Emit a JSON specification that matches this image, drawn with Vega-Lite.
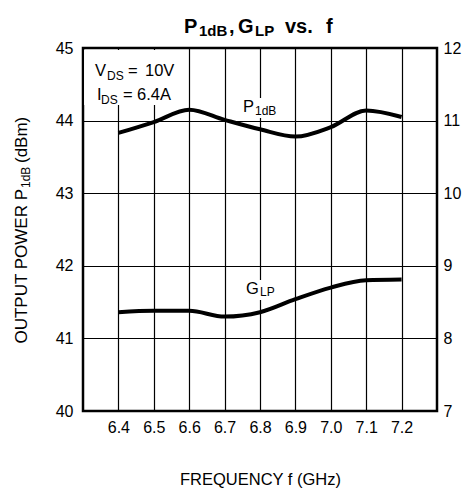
{
  "$schema": "https://vega.github.io/schema/vega-lite/v6.json",
  "width": 354,
  "height": 363,
  "autosize": {"type": "none"},
  "padding": {"left": 83, "top": 48, "right": 34, "bottom": 81},
  "background": "white",
  "config": {
    "font": "Liberation Sans",
    "view": {"stroke": "black", "strokeWidth": 2.5},
    "axis": {
      "domain": false,
      "ticks": false,
      "labelFont": "Liberation Sans",
      "labelFontSize": 16,
      "labelColor": "black",
      "gridColor": "black",
      "gridOpacity": 1,
      "gridWidth": 1.2,
      "titleFont": "Liberation Sans",
      "titleFontWeight": "normal",
      "titleColor": "black"
    },
    "text": {"font": "Liberation Sans", "color": "black"}
  },
  "datasets": {
    "p1db": [
      {"f": 6.4, "p": 43.83},
      {"f": 6.5, "p": 43.98},
      {"f": 6.6, "p": 44.15},
      {"f": 6.7, "p": 44.01},
      {"f": 6.8, "p": 43.88},
      {"f": 6.9, "p": 43.78},
      {"f": 7.0, "p": 43.91},
      {"f": 7.1, "p": 44.14},
      {"f": 7.2, "p": 44.05}
    ],
    "glp": [
      {"f": 6.4, "g": 8.36},
      {"f": 6.5, "g": 8.38},
      {"f": 6.6, "g": 8.38},
      {"f": 6.7, "g": 8.30},
      {"f": 6.8, "g": 8.36},
      {"f": 6.9, "g": 8.54},
      {"f": 7.0, "g": 8.70},
      {"f": 7.1, "g": 8.80},
      {"f": 7.2, "g": 8.81}
    ],
    "labelBoxes": [
      {"f": 6.303, "f2": 6.591, "y": 44.972, "y2": 44.215},
      {"f": 6.743, "f2": 6.879, "y": 44.311, "y2": 44.036},
      {"f": 6.752, "f2": 6.868, "y": 41.804, "y2": 41.529}
    ],
    "titleBig": [
      {"t": "P", "f": 6.5853, "y": 45.2066},
      {"t": ",", "f": 6.7124, "y": 45.2066},
      {"t": "G", "f": 6.7379, "y": 45.2066},
      {"t": "vs.", "f": 6.8706, "y": 45.2066},
      {"t": "f", "f": 6.9864, "y": 45.2066}
    ],
    "titleSub": [
      {"t": "1dB", "f": 6.6277, "y": 45.1653},
      {"t": "LP", "f": 6.7859, "y": 45.1653}
    ],
    "noteBig": [
      {"t": "V", "f": 6.3339, "y": 44.6143},
      {"t": "=", "f": 6.4271, "y": 44.6143},
      {"t": "10V", "f": 6.4751, "y": 44.6143},
      {"t": "I", "f": 6.3395, "y": 44.2837},
      {"t": "=", "f": 6.4130, "y": 44.2837},
      {"t": "6.4A", "f": 6.4525, "y": 44.2837},
      {"t": "P", "f": 6.752, "y": 44.1185},
      {"t": "G", "f": 6.7605, "y": 41.6116}
    ],
    "noteSub": [
      {"t": "DS", "f": 6.3678, "y": 44.5592},
      {"t": "DS", "f": 6.3508, "y": 44.2287},
      {"t": "1dB", "f": 6.7859, "y": 44.0771},
      {"t": "LP", "f": 6.8, "y": 41.584}
    ],
    "yTitleMain": [
      {"t": "OUTPUT POWER P", "f": 6.1418, "y": 43.0579}
    ],
    "yTitleEnd": [
      {"t": "(dBm)", "f": 6.1418, "y": 43.416}
    ],
    "yTitleSub": [
      {"t": "1dB", "f": 6.1503, "y": 43.0716}
    ]
  },
  "encoding": {
    "x": {
      "field": "f", "type": "quantitative",
      "scale": {"domain": [6.3, 7.3], "nice": false, "zero": false},
      "axis": {
        "values": [6.4, 6.5, 6.6, 6.7, 6.8, 6.9, 7.0, 7.1, 7.2],
        "format": ".1f",
        "grid": true,
        "labelPadding": 8,
        "title": "FREQUENCY f (GHz)",
        "titleFontSize": 16.5,
        "titlePadding": 36
      }
    }
  },
  "layer": [
    {
      "data": {"name": "p1db"},
      "mark": {"type": "line", "color": "black", "strokeWidth": 4, "interpolate": "monotone"},
      "encoding": {
        "y": {
          "field": "p", "type": "quantitative",
          "scale": {"domain": [40, 45], "nice": false, "zero": false},
          "axis": {
            "orient": "left",
            "values": [40, 41, 42, 43, 44, 45],
            "grid": true,
            "labelPadding": 10,
            "title": null
          }
        }
      }
    },
    {
      "data": {"name": "glp"},
      "mark": {"type": "line", "color": "black", "strokeWidth": 4, "interpolate": "monotone"},
      "encoding": {
        "y": {
          "field": "g", "type": "quantitative",
          "scale": {"domain": [7, 12], "nice": false, "zero": false},
          "axis": {
            "orient": "right",
            "values": [7, 8, 9, 10, 11, 12],
            "grid": false,
            "labelPadding": 6,
            "title": null
          }
        }
      }
    },
    {
      "data": {"name": "labelBoxes"},
      "mark": {"type": "rect", "color": "white", "opacity": 1},
      "encoding": {
        "x2": {"field": "f2"},
        "y": {"field": "y", "type": "quantitative", "scale": {"domain": [40, 45], "nice": false, "zero": false}, "axis": null},
        "y2": {"field": "y2"}
      }
    },
    {
      "data": {"name": "titleBig"},
      "mark": {"type": "text", "fontSize": 20, "fontWeight": "bold", "align": "left", "baseline": "alphabetic"},
      "encoding": {
        "y": {"field": "y", "type": "quantitative", "scale": {"domain": [40, 45], "nice": false, "zero": false}, "axis": null},
        "text": {"field": "t"}
      }
    },
    {
      "data": {"name": "titleSub"},
      "mark": {"type": "text", "fontSize": 15, "fontWeight": "bold", "align": "left", "baseline": "alphabetic"},
      "encoding": {
        "y": {"field": "y", "type": "quantitative", "scale": {"domain": [40, 45], "nice": false, "zero": false}, "axis": null},
        "text": {"field": "t"}
      }
    },
    {
      "data": {"name": "noteBig"},
      "mark": {"type": "text", "fontSize": 16.5, "align": "left", "baseline": "alphabetic"},
      "encoding": {
        "y": {"field": "y", "type": "quantitative", "scale": {"domain": [40, 45], "nice": false, "zero": false}, "axis": null},
        "text": {"field": "t"}
      }
    },
    {
      "data": {"name": "noteSub"},
      "mark": {"type": "text", "fontSize": 12, "align": "left", "baseline": "alphabetic"},
      "encoding": {
        "y": {"field": "y", "type": "quantitative", "scale": {"domain": [40, 45], "nice": false, "zero": false}, "axis": null},
        "text": {"field": "t"}
      }
    },
    {
      "data": {"name": "yTitleMain"},
      "mark": {"type": "text", "fontSize": 17, "align": "right", "baseline": "alphabetic", "angle": 270},
      "encoding": {
        "y": {"field": "y", "type": "quantitative", "scale": {"domain": [40, 45], "nice": false, "zero": false}, "axis": null},
        "text": {"field": "t"}
      }
    },
    {
      "data": {"name": "yTitleEnd"},
      "mark": {"type": "text", "fontSize": 17, "align": "left", "baseline": "alphabetic", "angle": 270},
      "encoding": {
        "y": {"field": "y", "type": "quantitative", "scale": {"domain": [40, 45], "nice": false, "zero": false}, "axis": null},
        "text": {"field": "t"}
      }
    },
    {
      "data": {"name": "yTitleSub"},
      "mark": {"type": "text", "fontSize": 12, "align": "left", "baseline": "alphabetic", "angle": 270},
      "encoding": {
        "y": {"field": "y", "type": "quantitative", "scale": {"domain": [40, 45], "nice": false, "zero": false}, "axis": null},
        "text": {"field": "t"}
      }
    }
  ],
  "resolve": {"scale": {"y": "independent"}}
}
